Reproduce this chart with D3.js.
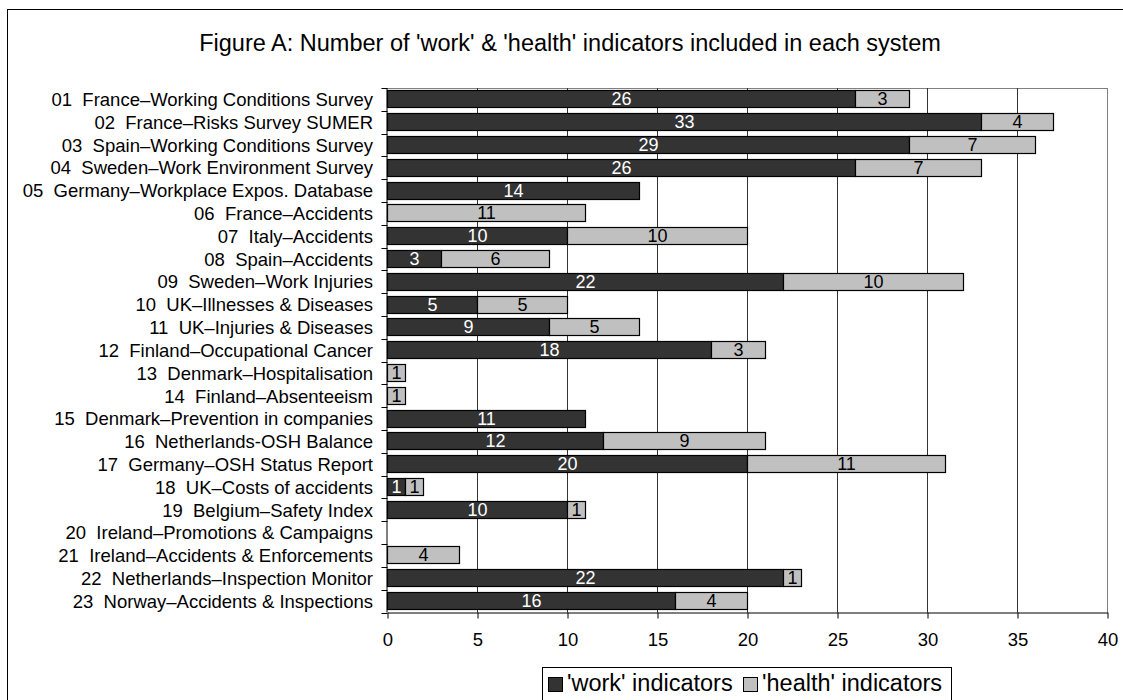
<!DOCTYPE html>
<html>
<head>
<meta charset="utf-8">
<script src="https://cdn.jsdelivr.net/npm/d3@7"></script>
<style>
  html, body { margin: 0; padding: 0; background: #fff; }
  svg { display: block; font-family: "Liberation Sans", Arial, sans-serif; }
</style>
</head>
<body>
<svg id="chart" width="1123" height="700"></svg>
<script>
// Monitoring systems, in display order (top to bottom)
const systems = [
  "01  France–Working Conditions Survey",
  "02  France–Risks Survey SUMER",
  "03  Spain–Working Conditions Survey",
  "04  Sweden–Work Environment Survey",
  "05  Germany–Workplace Expos. Database",
  "06  France–Accidents",
  "07  Italy–Accidents",
  "08  Spain–Accidents",
  "09  Sweden–Work Injuries",
  "10  UK–Illnesses & Diseases",
  "11  UK–Injuries & Diseases",
  "12  Finland–Occupational Cancer",
  "13  Denmark–Hospitalisation",
  "14  Finland–Absenteeism",
  "15  Denmark–Prevention in companies",
  "16  Netherlands-OSH Balance",
  "17  Germany–OSH Status Report",
  "18  UK–Costs of accidents",
  "19  Belgium–Safety Index",
  "20  Ireland–Promotions & Campaigns",
  "21  Ireland–Accidents & Enforcements",
  "22  Netherlands–Inspection Monitor",
  "23  Norway–Accidents & Inspections"
];

// Number of 'work' indicators per system
const workIndicators = [26, 33, 29, 26, 14, 0, 10, 3, 22, 5, 9, 18, 0, 0, 11, 12, 20, 1, 10, 0, 0, 22, 16];

// Number of 'health' indicators per system
const healthIndicators = [3, 4, 7, 7, 0, 11, 10, 6, 10, 5, 5, 3, 1, 1, 0, 9, 11, 1, 1, 0, 4, 1, 4];

const seriesNames = ["'work' indicators", "'health' indicators"];
const xTicks = [0, 5, 10, 15, 20, 25, 30, 35, 40];

const titleText = "Figure A: Number of 'work' & 'health' indicators included in each system";

const colors = { work: "#333333", health: "#c0c0c0" };

const svg = d3.select("#chart");

// Outer frame (runs past the right and bottom edges of the canvas)
svg.append("rect")
  .attr("x", 7.5).attr("y", 9.5)
  .attr("width", 1200).attr("height", 800)
  .attr("fill", "none").attr("stroke", "#000").attr("stroke-width", 1);

const plot = { left: 387.5, right: 1107.5, top: 88, bottom: 612.5 };

const x = d3.scaleLinear().domain([0, 40]).range([plot.left, plot.right]);
const y = d3.scaleBand().domain(systems).range([plot.top, plot.bottom]).paddingInner(0.21).paddingOuter(0.105);
const yEdges = d3.scaleBand().domain(systems).range([plot.top, plot.bottom]);

// Title
svg.append("text")
  .attr("x", 570).attr("y", 51)
  .attr("text-anchor", "middle")
  .attr("font-size", 23.5)
  .attr("fill", "#000")
  .text(titleText);

// Plot area border (top and right) and vertical gridlines
svg.append("line")
  .attr("x1", plot.left).attr("x2", plot.right)
  .attr("y1", plot.top + 0.5).attr("y2", plot.top + 0.5)
  .attr("stroke", "#808080");

svg.append("g")
  .selectAll("line")
  .data(xTicks.slice(1))
  .join("line")
  .attr("x1", d => Math.round(x(d)) - 0.5).attr("x2", d => Math.round(x(d)) - 0.5)
  .attr("y1", plot.top).attr("y2", plot.bottom)
  .attr("stroke", d => d === 40 ? "#808080" : "#333")
  .attr("stroke-width", 1);

// Stacked bars
const rows = systems.map((s, i) => ({ name: s, work: workIndicators[i], health: healthIndicators[i] }));

const barG = svg.append("g");
rows.forEach(r => {
  const segs = [
    { key: "work", x0: 0, x1: r.work, v: r.work },
    { key: "health", x0: r.work, x1: r.work + r.health, v: r.health }
  ].filter(s => s.v > 0);
  segs.forEach(s => {
    const yy = Math.round(y(r.name)) + 0.5;
    const hh = Math.round(y.bandwidth()) - 1;
    barG.append("rect")
      .attr("x", Math.round(x(s.x0)) - 0.5)
      .attr("y", yy)
      .attr("width", Math.round(x(s.x1)) - Math.round(x(s.x0)))
      .attr("height", hh)
      .attr("fill", colors[s.key])
      .attr("stroke", "#000")
      .attr("stroke-width", 1.2);
    barG.append("text")
      .attr("x", (x(s.x0) + x(s.x1)) / 2)
      .attr("y", yy + hh / 2)
      .attr("dy", "0.36em")
      .attr("text-anchor", "middle")
      .attr("font-size", 18)
      .attr("fill", s.key === "work" ? "#fff" : "#000")
      .text(s.v);
  });
});

// Category axis: line, ticks at band edges, labels
const yAxisG = svg.append("g");
yAxisG.append("line")
  .attr("x1", plot.left - 0.5).attr("x2", plot.left - 0.5)
  .attr("y1", plot.top).attr("y2", plot.bottom)
  .attr("stroke", "#000");
const edges = systems.map(s => yEdges(s)).concat([plot.bottom]);
yAxisG.selectAll("line.tick")
  .data(edges)
  .join("line")
  .attr("class", "tick")
  .attr("x1", plot.left - 6).attr("x2", plot.left)
  .attr("y1", d => Math.round(d) + 0.5).attr("y2", d => Math.round(d) + 0.5)
  .attr("stroke", "#000");
yAxisG.selectAll("text")
  .data(systems)
  .join("text")
  .attr("x", 373)
  .attr("y", d => yEdges(d) + yEdges.bandwidth() / 2)
  .attr("dy", "0.36em")
  .attr("text-anchor", "end")
  .attr("font-size", 18.5)
  .attr("fill", "#000")
  .style("white-space", "pre")
  .text(d => d);

// Value axis
const xAxis = d3.axisBottom(x).tickValues(xTicks).tickSize(6).tickSizeOuter(0).tickFormat(d3.format("d"));
const xAxisG = svg.append("g")
  .attr("transform", `translate(0,${plot.bottom})`)
  .call(xAxis);
xAxisG.select(".domain").attr("stroke", "#000").attr("stroke-width", 1.2);
xAxisG.selectAll(".tick line").attr("stroke", "#000");
xAxisG.selectAll(".tick text")
  .attr("font-size", 18.5)
  .attr("font-family", "Liberation Sans, Arial, sans-serif")
  .attr("fill", "#000")
  .attr("y", 20);

// Legend
const legend = svg.append("g");
legend.append("rect")
  .attr("x", 542.5).attr("y", 667.5)
  .attr("width", 409).attr("height", 40)
  .attr("fill", "#fff").attr("stroke", "#000");
const legendItems = [
  { name: seriesNames[0], color: colors.work, x: 548 },
  { name: seriesNames[1], color: colors.health, x: 743 }
];
legendItems.forEach(it => {
  legend.append("rect")
    .attr("x", it.x + 0.5).attr("y", 677.5)
    .attr("width", 14).attr("height", 14)
    .attr("fill", it.color).attr("stroke", "#000");
  legend.append("text")
    .attr("x", it.x + 19).attr("y", 683)
    .attr("dy", "0.36em")
    .attr("font-size", 23.5)
    .attr("fill", "#000")
    .text(it.name);
});
</script>
</body>
</html>
